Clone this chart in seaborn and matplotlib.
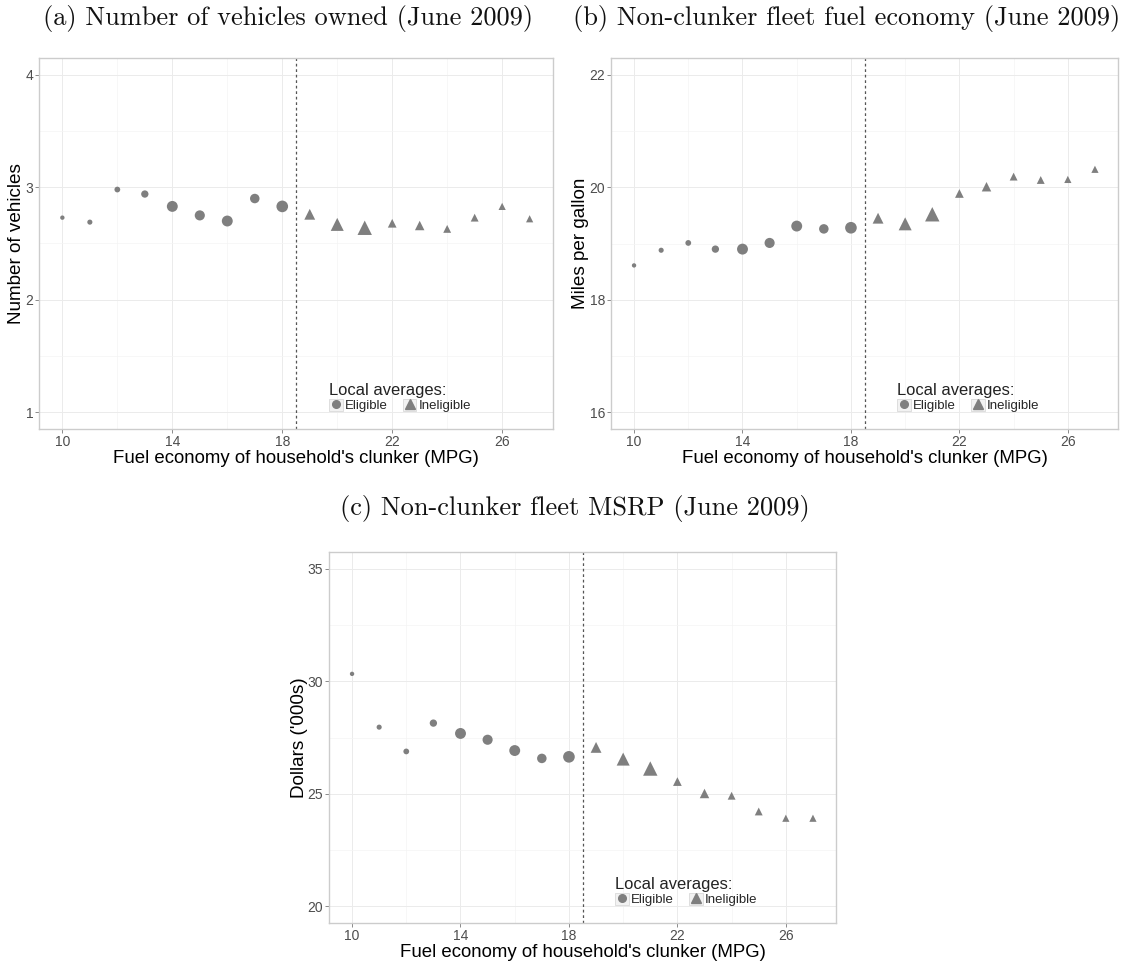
import numpy as np
import pandas as pd
import matplotlib
matplotlib.use("Agg")
import matplotlib.pyplot as plt
from matplotlib.lines import Line2D
from matplotlib.patches import Rectangle
from matplotlib.legend_handler import HandlerTuple
import seaborn as sns

# ---------------- data ----------------
mpg = [10, 11, 12, 13, 14, 15, 16, 17, 18, 19, 20, 21, 22, 23, 24, 25, 26, 27]
eligible = [True] * 9 + [False] * 9
weight = [16, 22, 28, 45, 100, 86, 100, 76, 114, 59, 85, 104, 38, 45, 31, 31, 26, 26]
vehicles = [2.73, 2.69, 2.98, 2.94, 2.83, 2.75, 2.70, 2.90, 2.83,
            2.76, 2.67, 2.64, 2.68, 2.66, 2.63, 2.73, 2.83, 2.72]
fleet_mpg = [18.61, 18.88, 19.01, 18.90, 18.90, 19.01, 19.31, 19.26, 19.28,
             19.45, 19.35, 19.52, 19.89, 20.01, 20.19, 20.13, 20.14, 20.32]
msrp = [30.33, 27.96, 26.88, 28.14, 27.68, 27.40, 26.92, 26.57, 26.64,
        27.06, 26.54, 26.12, 25.54, 25.01, 24.91, 24.21, 23.91, 23.91]

titles = ["(a) Number of vehicles owned (June 2009)",
          "(b) Non-clunker fleet fuel economy (June 2009)",
          "(c) Non-clunker fleet MSRP (June 2009)"]
ylabels = ["Number of vehicles", "Miles per gallon", "Dollars ('000s)"]
xlabel = "Fuel economy of household's clunker (MPG)"
x_ticks = [10, 14, 18, 22, 26]
y_ticks = [[1, 2, 3, 4], [16, 18, 20, 22], [20, 25, 30, 35]]
cutoff = 18.5
legend_title = "Local averages:"
legend_labels = ["Eligible", "Ineligible"]

df = pd.DataFrame({"mpg": mpg, "eligible": eligible, "weight": weight,
                   "vehicles": vehicles, "fleet_mpg": fleet_mpg, "msrp": msrp})

# ---------------- style ----------------
sns.set_theme(style="white")
plt.rcParams["font.family"] = ["Liberation Sans", "DejaVu Sans"]

W, H = 1126, 965
fig = plt.figure(figsize=(W / 100, H / 100), dpi=100)

def px_axes(left, top, width, height):
    return fig.add_axes([left / W, 1 - (top + height) / H, width / W, height / H])

ax_a = px_axes(39, 58, 514, 371)
ax_b = px_axes(611, 58, 507, 371)
ax_c = px_axes(329, 552, 507, 371)
axes = [ax_a, ax_b, ax_c]
cols = ["vehicles", "fleet_mpg", "msrp"]
ylab_x = [-0.043, -0.061, -0.059]

grey = "#7F7F7F"
elig_df = df[df["eligible"]]
inel_df = df[~df["eligible"]]

for ax, col, yl, yt, lx in zip(axes, cols, ylabels, y_ticks, ylab_x):
    sns.scatterplot(data=elig_df, x="mpg", y=col, size="weight", sizes=(0, 74),
                    size_norm=(0, 120), marker="o", color=grey, linewidth=0,
                    legend=False, ax=ax, zorder=3)
    sns.scatterplot(data=inel_df, x="mpg", y=col, size="weight", sizes=(0, 124),
                    size_norm=(0, 120), marker="^", color=grey, linewidth=0,
                    legend=False, ax=ax, zorder=3)
    ax.axvline(cutoff, color="#555555", lw=0.9, ls=(0, (2.2, 2.2)), zorder=2)

    # limits with ggplot-like 5% expansion
    x0, x1 = min(mpg), max(mpg)
    dx = 0.05 * (x1 - x0)
    ax.set_xlim(x0 - dx, x1 + dx)
    y0, y1 = yt[0], yt[-1]
    dy = 0.05 * (y1 - y0)
    ax.set_ylim(y0 - dy, y1 + dy)

    ax.set_xticks(x_ticks)
    ax.set_xticks([(a + b) / 2 for a, b in zip(x_ticks[:-1], x_ticks[1:])], minor=True)
    ax.set_yticks(yt)
    ax.set_yticks([(a + b) / 2 for a, b in zip(yt[:-1], yt[1:])], minor=True)
    ax.set_axisbelow(True)
    ax.grid(which="major", color="#EBEBEB", lw=0.7)
    ax.grid(which="minor", color="#F4F4F4", lw=0.5)
    ax.tick_params(which="major", length=3, width=0.6, color="#777777",
                   labelsize=10, labelcolor="#4D4D4D", pad=1.2,
                   bottom=True, left=True)
    ax.tick_params(which="minor", length=0)
    for s in ax.spines.values():
        s.set_color("#CCCCCC")
        s.set_linewidth(1.0)

    ax.set_xlabel(xlabel, fontsize=13.4, color="black", va="top")
    ax.xaxis.set_label_coords(0.5, -0.057)
    ax.set_ylabel(yl, fontsize=13.6, color="black", va="center")
    ax.yaxis.set_label_coords(lx, 0.5)

    # legend
    box = dict(facecolor="#F2F2F2", edgecolor="#D9D9D9", linewidth=0.6)
    h1 = (Rectangle((0, 0), 1, 1, **box),
          Line2D([], [], marker="o", color=grey, ls="none", markersize=5.5))
    h2 = (Rectangle((0, 0), 1, 1, **box),
          Line2D([], [], marker="^", color=grey, ls="none", markersize=6.5))
    leg = ax.legend([h1, h2], legend_labels, title=legend_title,
                    handler_map={tuple: HandlerTuple(ndivide=1)},
                    loc="lower left", bbox_to_anchor=(0.565, 0.045), ncol=2,
                    frameon=False, fontsize=9.5, title_fontsize=11.9,
                    handlelength=1.0, handleheight=1.0, handletextpad=0.15,
                    columnspacing=1.2, borderpad=0, borderaxespad=0,
                    alignment="left", labelspacing=0.1)
    leg.get_title().set_color("#222222")

# panel titles (LaTeX-like serif)
title_pos = [(288, 18), (847, 18), (575, 509)]
for t, (tx, ty) in zip(titles, title_pos):
    fig.text(tx / W, 1 - ty / H, t, ha="center", va="center",
             fontsize=19, family=["cmr10", "DejaVu Serif"], color="#111111")

fig.savefig("out.png", dpi=100)
